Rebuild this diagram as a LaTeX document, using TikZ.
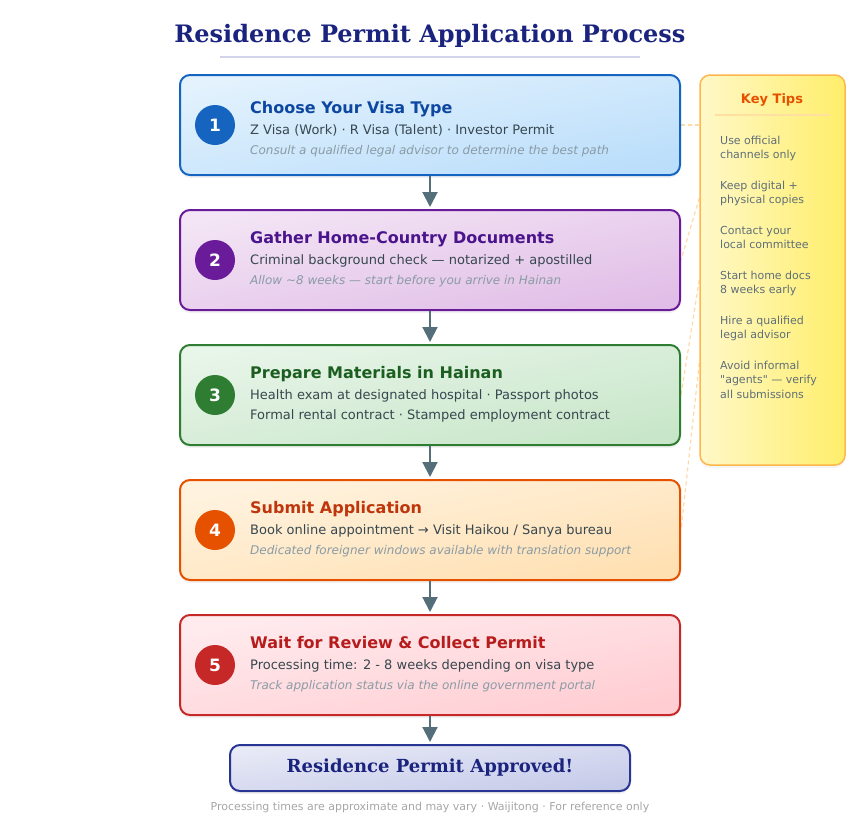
\documentclass[tikz,border=0pt]{standalone}
\usepackage{fontspec}
\setmainfont{DejaVu Sans}
\newfontfamily\serifbf{DejaVu Serif}
\newfontfamily\rawq{DejaVu Sans}[Ligatures=TeXOff]
\usetikzlibrary{arrows.meta,shadows}
\pgfdeclarelayer{background}
\pgfsetlayers{background,main}

\definecolor{b1}{HTML}{1565C0}\definecolor{b1t}{HTML}{0D47A1}\definecolor{b1l}{HTML}{E3F2FD}\definecolor{b1r}{HTML}{BBDEFB}
\definecolor{b2}{HTML}{6A1B9A}\definecolor{b2t}{HTML}{4A148C}\definecolor{b2l}{HTML}{F3E5F5}\definecolor{b2r}{HTML}{E1BEE7}
\definecolor{b3}{HTML}{2E7D32}\definecolor{b3t}{HTML}{1B5E20}\definecolor{b3l}{HTML}{E8F5E9}\definecolor{b3r}{HTML}{C8E6C9}
\definecolor{b4}{HTML}{E65100}\definecolor{b4t}{HTML}{BF360C}\definecolor{b4l}{HTML}{FFF3E0}\definecolor{b4r}{HTML}{FFE0B2}
\definecolor{b5}{HTML}{C62828}\definecolor{b5t}{HTML}{B71C1C}\definecolor{b5l}{HTML}{FFEBEE}\definecolor{b5r}{HTML}{FFCDD2}
\definecolor{fin}{HTML}{283593}\definecolor{findark}{HTML}{1A237E}\definecolor{finl}{HTML}{E8EAF6}\definecolor{finr}{HTML}{C5CAE9}
\definecolor{uline}{HTML}{D1D4EA}
\definecolor{txt}{HTML}{37474F}
\definecolor{notec}{HTML}{8A9BA5}
\definecolor{arrowc}{HTML}{546E7A}
\definecolor{peach}{HTML}{FFD9A6}
\definecolor{tipborder}{HTML}{FFB74D}
\definecolor{tipl}{HTML}{FFF8C8}
\definecolor{tipr}{HTML}{FFEE6A}
\definecolor{keyc}{HTML}{E65100}
\definecolor{sepc}{HTML}{FFE0A0}
\definecolor{tipc}{HTML}{5F6F78}
\definecolor{footc}{HTML}{A6A6A6}

\tikzset{
  stepbox/.style={draw, line width=2pt, rounded corners=10pt, minimum width=500pt, minimum height=100pt, inner sep=0pt,
    drop shadow={opacity=0.10, shadow xshift=0pt, shadow yshift=-3pt}},
  num/.style={circle, minimum size=40pt, inner sep=0pt, text=white, font=\fontsize{17}{17}\selectfont\bfseries},
  ttl/.style={anchor=base west, inner sep=0pt, font=\fontsize{16}{19}\selectfont\bfseries},
  desc/.style={anchor=base west, inner sep=0pt, text=txt, font=\fontsize{13}{15}\selectfont},
  note/.style={anchor=base west, inner sep=0pt, text=notec, font=\fontsize{12}{14}\selectfont\itshape},
  flow/.style={draw=arrowc, line width=2pt, shorten >=2pt, -{Triangle[width=15pt,length=15pt]}},
  tipline/.style={draw=peach, dash pattern=on 4pt off 3pt, line width=1.2pt},
  tiptext/.style={anchor=base west, inner sep=0pt, text=tipc, font=\fontsize{11}{14}\selectfont},
}

\begin{document}
\begin{tikzpicture}[x=1pt,y=-1pt]
\useasboundingbox (0,0) rectangle (860,820);

% title
\node[font=\serifbf\bfseries\fontsize{24}{30}\selectfont, text=findark] (title) at (430,36) {Residence Permit Application Process};
\coordinate (ul1) at (220,57);
\coordinate (ul2) at (640,57);
\draw[line width=2pt, draw=uline] (ul1) -- (ul2);

% step 1
\node[stepbox, draw=b1, top color=b1l, bottom color=b1r, shading angle=11] (s1) at (430,125) {};
\node[num, fill=b1] (n1) at (215,125) {1};
\node[ttl, text=b1t] (t1) at (250,113) {Choose Your Visa Type};
\node[desc] (d1) at (250,134.5) {Z Visa (Work) · R Visa (Talent) · Investor Permit};
\node[note] (i1) at (250,154.5) {Consult a qualified legal advisor to determine the best path};

% step 2
\node[stepbox, draw=b2, top color=b2l, bottom color=b2r, shading angle=11] (s2) at (430,260) {};
\node[num, fill=b2] (n2) at (215,260) {2};
\node[ttl, text=b2t] (t2) at (250,243) {Gather Home-Country Documents};
\node[desc] (d2) at (250,264.5) {Criminal background check — notarized + apostilled};
\node[note] (i2) at (250,284.5) {Allow \textasciitilde8 weeks — start before you arrive in Hainan};

% step 3
\node[stepbox, draw=b3, top color=b3l, bottom color=b3r, shading angle=11] (s3) at (430,395) {};
\node[num, fill=b3] (n3) at (215,395) {3};
\node[ttl, text=b3t] (t3) at (250,378) {Prepare Materials in Hainan};
\node[desc] (d3) at (250,399.5) {Health exam at designated hospital · Passport photos};
\node[desc] (d3b) at (250,419.5) {Formal rental contract · Stamped employment contract};

% step 4
\node[stepbox, draw=b4, top color=b4l, bottom color=b4r, shading angle=11] (s4) at (430,530) {};
\node[num, fill=b4] (n4) at (215,530) {4};
\node[ttl, text=b4t] (t4) at (250,513) {Submit Application};
\node[desc] (d4) at (250,534.5) {Book online appointment → Visit Haikou / Sanya bureau};
\node[note] (i4) at (250,554.5) {Dedicated foreigner windows available with translation support};

% step 5
\node[stepbox, draw=b5, top color=b5l, bottom color=b5r, shading angle=11] (s5) at (430,665) {};
\node[num, fill=b5] (n5) at (215,665) {5};
\node[ttl, text=b5t] (t5) at (250,648) {Wait for Review \& Collect Permit};
\node[desc] (d5) at (250,669.5) {Processing time: 2 - 8 weeks depending on visa type};
\node[note] (i5) at (250,689.5) {Track application status via the online government portal};

% final
\node[draw=fin, line width=2pt, rounded corners=10pt, minimum width=400pt, minimum height=46pt,
  top color=finl, bottom color=finr, shading angle=7, text=findark,
  drop shadow={opacity=0.10, shadow xshift=0pt, shadow yshift=-3pt},
  font=\serifbf\bfseries\fontsize{18}{22}\selectfont] (fin) at (430,768) {Residence Permit Approved!};

% arrows
\draw[flow] (s1.south) -- (s2.north);
\draw[flow] (s2.south) -- (s3.north);
\draw[flow] (s3.south) -- (s4.north);
\draw[flow] (s4.south) -- (s5.north);
\draw[flow] (s5.south) -- (fin.north);

% tips panel
\node[draw=tipborder, line width=1.5pt, rounded corners=10pt, minimum width=145pt, minimum height=390pt,
  left color=tipl, right color=tipr, drop shadow={opacity=0.08, shadow xshift=0pt, shadow yshift=-3pt}] (tips) at (772.5,270) {};
\node[font=\fontsize{13}{15}\selectfont\bfseries, text=keyc] (kt) at (772,100) {Key Tips};
\coordinate (sp1) at (715,115);
\coordinate (sp2) at (830,115);
\draw[line width=2pt, draw=sepc] (sp1) -- (sp2);

\node[tiptext] (a1) at (720,144) {Use official};
\node[tiptext] (a2) at (720,158) {channels only};
\node[tiptext] (b1x) at (720,189) {Keep digital +};
\node[tiptext] (b2x) at (720,203) {physical copies};
\node[tiptext] (c1) at (720,234) {Contact your};
\node[tiptext] (c2) at (720,248) {local committee};
\node[tiptext] (e1) at (720,279) {Start home docs};
\node[tiptext] (e2) at (720,293) {8 weeks early};
\node[tiptext] (f1) at (720,324) {Hire a qualified};
\node[tiptext] (f2) at (720,338) {legal advisor};
\node[tiptext] (g1) at (720,369) {Avoid informal};
\node[tiptext] (g2) at (720,383) {{\rawq"agents"} — verify};
\node[tiptext] (g3) at (720,398) {all submissions};

\begin{pgfonlayer}{background}
\draw[tipline] (s1.east) -- (tips.west |- s1.east);
\draw[tipline] (tips.west |- 0,198) -- (s2.east);
\draw[tipline] (tips.west |- 0,280) -- (s3.east);
\draw[tipline] (tips.west |- 0,363) -- (s4.east);
\end{pgfonlayer}

% footer
\node[font=\fontsize{11}{13}\selectfont, text=footc] (foot) at (430,807) {Processing times are approximate and may vary · Waijitong · For reference only};
\end{tikzpicture}
\end{document}
